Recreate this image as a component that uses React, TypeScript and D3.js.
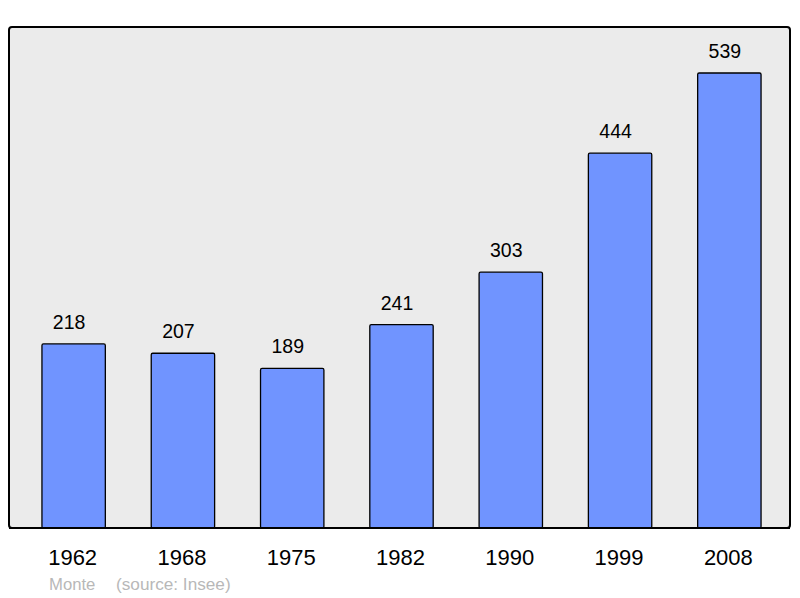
import * as d3 from 'd3'

const years = ['1962', '1968', '1975', '1982', '1990', '1999', '2008']
const population = [218, 207, 189, 241, 303, 444, 539]
const commune = 'Monte'
const source = '(source: Insee)'

const W = 800
const H = 598

const App = () => {
  const x = d3.scaleBand<string>()
    .domain(years)
    .range([19, 784])
    .paddingInner(0.42)
    .paddingOuter(0.21)

  const y = d3.scaleLinear()
    .domain([0, d3.max(population) || 0])
    .range([528, 73])

  const cx = (yr: string) => (x(yr) || 0) + x.bandwidth() / 2

  return (
    <svg width={W} height={H} style={{position: 'absolute', left: 0, top: 0}}
      fontFamily="'Liberation Sans', Arial, sans-serif">
      {/* panel */}
      <rect x={9} y={27} width={781} height={501} rx={3} fill="#ebebeb" stroke="#000" strokeWidth={2} />

      {/* bars */}
      {years.map((yr, i) => (
        <g key={yr}>
          <rect
            x={x(yr)}
            y={y(population[i])}
            width={x.bandwidth()}
            height={y(0) - y(population[i])}
            rx={1.5}
            fill="#7094ff"
            stroke="#000"
            strokeWidth={1.3}
          />
          <text x={cx(yr) - 4.5} y={y(population[i]) - 15}
            textAnchor="middle" fontSize={19.5} fill="#000">{population[i]}</text>
          <text x={cx(yr) - 1} y={565}
            textAnchor="middle" fontSize={22} fill="#000">{yr}</text>
        </g>
      ))}

      {/* redraw panel bottom edge over bars */}
      <line x1={9} x2={790} y1={528} y2={528} stroke="#000" strokeWidth={2} />

      <text x={49} y={590} fontSize={16.7} fill="#b8b8b8">{commune}</text>
      <text x={116} y={590} fontSize={17.2} fill="#b8b8b8">{source}</text>
    </svg>
  )
}

export default App
